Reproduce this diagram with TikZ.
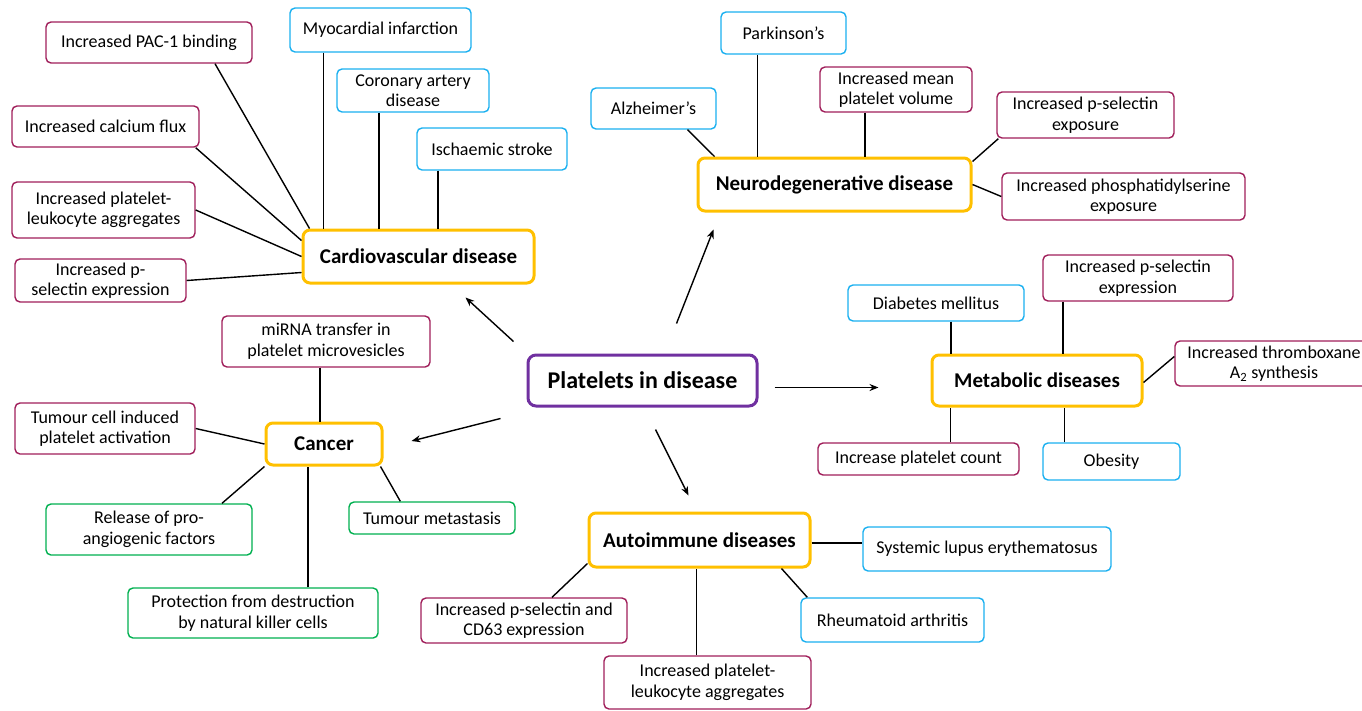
\documentclass[tikz,border=0pt]{standalone}
\usepackage{fontspec}
\setmainfont{Carlito}
\usetikzlibrary{arrows.meta}

\definecolor{plum}{RGB}{160,30,90}
\definecolor{sky}{RGB}{26,176,240}
\definecolor{leaf}{RGB}{0,176,80}
\definecolor{gold}{RGB}{255,192,0}
\definecolor{grape}{RGB}{112,48,160}

\tikzset{
  item/.style={draw, rounded corners=5pt, line width=1.4pt, fill=white, align=center,
    inner sep=0pt, font=\fontsize{18}{20.5}\selectfont},
  cause/.style={item, draw=sky},
  change/.style={item, draw=plum},
  effect/.style={item, draw=leaf},
  topic/.style={item, draw=gold, line width=3pt, rounded corners=7pt,
    font=\bfseries\fontsize{21}{25}\selectfont},
  hub/.style={item, draw=grape, line width=3pt, rounded corners=8pt,
    font=\bfseries\fontsize{24}{28}\selectfont},
  link/.style={line width=1.4pt},
  push/.style={-{Stealth[length=9pt,width=7pt]}, line width=1.4pt}
}

\begin{document}
\begin{tikzpicture}[x=1pt,y=-1pt]
  \useasboundingbox (0,0) rectangle (1362,710);

  % centre
  \node[hub, minimum width=229pt, minimum height=51pt] (hub) at (642.5,380.5) {Platelets in disease};

  % cardiovascular
  \node[topic, minimum width=231pt, minimum height=53pt] (cvd) at (418.5,256.5) {Cardiovascular disease};
  \node[change, minimum width=206pt, minimum height=41pt] (pac) at (149,42.5) {Increased PAC-1 binding};
  \node[cause, minimum width=181pt, minimum height=44pt] (myo) at (380.5,30) {Myocardial infarction};
  \node[cause, minimum width=152pt, minimum height=43pt] (cad) at (413,90.5) {Coronary artery\\disease};
  \node[cause, minimum width=150pt, minimum height=42pt] (isch) at (492,149) {Ischaemic stroke};
  \node[change, minimum width=187pt, minimum height=41pt] (calc) at (105.5,126.5) {Increased calcium flux};
  \node[change, minimum width=183pt, minimum height=56pt] (pla1) at (103.5,210) {Increased platelet-\\leukocyte aggregates};
  \node[change, minimum width=171pt, minimum height=43pt] (psel1) at (100.5,280.5) {Increased p-\\selectin expression};
  \draw[link] ([xshift=66pt]pac.south) -- ([xshift=8pt]cvd.north west);
  \draw[link] ([xshift=-57pt]myo.south) -- ([xshift=-57pt]myo.south |- cvd.north);
  \draw[link] ([xshift=-34pt]cad.south) -- ([xshift=-34pt]cad.south |- cvd.north);
  \draw[link] ([xshift=-54pt]isch.south) -- ([xshift=-54pt]isch.south |- cvd.north);
  \draw[link] ([xshift=-4pt]calc.south east) -- ([yshift=-12pt]cvd.north west);
  \draw[link] (pla1.east) -- (cvd.west);
  \draw[link] (psel1.east) -- ([yshift=-16pt]cvd.west);

  % neurodegenerative
  \node[topic, minimum width=273pt, minimum height=53pt] (neuro) at (834.5,184.5) {Neurodegenerative disease};
  \node[cause, minimum width=125pt, minimum height=41pt] (alz) at (653.5,108.5) {Alzheimer’s};
  \node[cause, minimum width=125pt, minimum height=42pt] (park) at (783.5,33) {Parkinson’s};
  \node[change, minimum width=152pt, minimum height=45pt] (mpv) at (896,89.5) {Increased mean\\platelet volume};
  \node[change, minimum width=177pt, minimum height=46pt] (psel2) at (1085.5,115) {Increased p-selectin\\exposure};
  \node[change, minimum width=243pt, minimum height=47pt] (pser) at (1123.5,196.5) {Increased phosphatidylserine\\exposure};
  \draw[link] ([xshift=34pt]alz.south) -- ([xshift=18pt]neuro.north west);
  \draw[link] ([xshift=-26pt]park.south) -- ([xshift=-26pt]park.south |- neuro.north);
  \draw[link] ([xshift=-31pt]mpv.south) -- ([xshift=-31pt]mpv.south |- neuro.north);
  \draw[link] ([xshift=2pt]psel2.south west) -- ([yshift=-5pt]neuro.north east);
  \draw[link] (neuro.east) -- (pser.west);

  % metabolic
  \node[topic, minimum width=210pt, minimum height=51pt] (meta) at (1037,380.5) {Metabolic diseases};
  \node[cause, minimum width=176pt, minimum height=36pt] (dm) at (936,303) {Diabetes mellitus};
  \node[change, minimum width=190pt, minimum height=46pt] (psel3) at (1138,278) {Increased p-selectin\\expression};
  \node[change, minimum width=198pt, minimum height=45pt] (txa) at (1274,363.5) {Increased thromboxane\\A\textsubscript{2} synthesis};
  \node[change, minimum width=201pt, minimum height=32pt] (count) at (918.5,459) {Increase platelet count};
  \node[cause, minimum width=137pt, minimum height=37pt] (obes) at (1111.5,461.5) {Obesity};
  \draw[link] ([xshift=15pt]dm.south) -- ([xshift=15pt]dm.south |- meta.north);
  \draw[link] ([xshift=-75pt]psel3.south) -- ([xshift=-75pt]psel3.south |- meta.north);
  \draw[link] ([yshift=-2pt]meta.east) -- ([yshift=7pt]txa.west);
  \draw[link] ([xshift=32pt]count.north) -- ([xshift=32pt]count.north |- meta.south);
  \draw[link] ([xshift=-47pt]obes.north) -- ([xshift=-47pt]obes.north |- meta.south);

  % cancer
  \node[topic, minimum width=116pt, minimum height=42pt] (cancer) at (324,444) {Cancer};
  \node[change, minimum width=208pt, minimum height=51pt] (mirna) at (326,341.5) {miRNA transfer in\\platelet microvesicles};
  \node[change, minimum width=180pt, minimum height=51pt] (tcell) at (105,428.5) {Tumour cell induced\\platelet activation};
  \node[effect, minimum width=206pt, minimum height=51pt] (angio) at (149,529.5) {Release of pro-\\angiogenic factors};
  \node[effect, minimum width=166pt, minimum height=32pt] (spread) at (432,518) {Tumour metastasis};
  \node[effect, minimum width=250pt, minimum height=50pt] (nk) at (253,613) {Protection from destruction\\by natural killer cells};
  \draw[link] ([xshift=-6pt]mirna.south) -- ([xshift=-6pt]mirna.south |- cancer.north);
  \draw[link] (tcell.east) -- (cancer.west);
  \draw[link] ([xshift=73pt]angio.north) -- (cancer.south west);
  \draw[link] ([xshift=55pt]nk.north) -- ([xshift=55pt]nk.north |- cancer.south);
  \draw[link] ([xshift=-3pt]cancer.south east) -- ([xshift=52pt]spread.north west);

  % autoimmune
  \node[topic, minimum width=221pt, minimum height=54pt] (auto) at (699.5,540) {Autoimmune diseases};
  \node[change, minimum width=206pt, minimum height=45pt] (cd63) at (524,620.5) {Increased p-selectin and\\CD63 expression};
  \node[change, minimum width=207pt, minimum height=53pt] (pla2) at (707.5,682.5) {Increased platelet-\\leukocyte aggregates};
  \node[cause, minimum width=248pt, minimum height=44pt] (sle) at (987,549) {Systemic lupus erythematosus};
  \node[cause, minimum width=183pt, minimum height=44pt] (ra) at (892.5,620) {Rheumatoid arthritis};
  \draw[link] ([xshift=28pt]cd63.north) -- ([yshift=5pt]auto.south west);
  \draw[link] ([xshift=-11pt]pla2.north) -- ([xshift=-11pt]pla2.north |- auto.south);
  \draw[link] ([yshift=-3pt]auto.east) -- ([yshift=-3pt]auto.east -| sle.west);
  \draw[link] ([xshift=-30pt]auto.south east) -- ([xshift=7pt]ra.north west);

  % arrows from the centre
  \draw[push] ([shift={(-13pt,12pt)}]hub.north west) -- ([shift={(47pt,-13pt)}]cvd.south);
  \draw[push] ([shift={(34pt,30pt)}]hub.north) -- ([shift={(17pt,-17pt)}]neuro.south west);
  \draw[push] ([shift={(-26pt,-11pt)}]hub.south west) -- ([shift={(28pt,3pt)}]cancer.east);
  \draw[push] ([shift={(13pt,-22pt)}]hub.south) -- ([shift={(-11pt,16pt)}]auto.north);
  \draw[push] ([shift={(16pt,-7pt)}]hub.east) -- ([shift={(-52pt,-7pt)}]meta.west);
\end{tikzpicture}
\end{document}
